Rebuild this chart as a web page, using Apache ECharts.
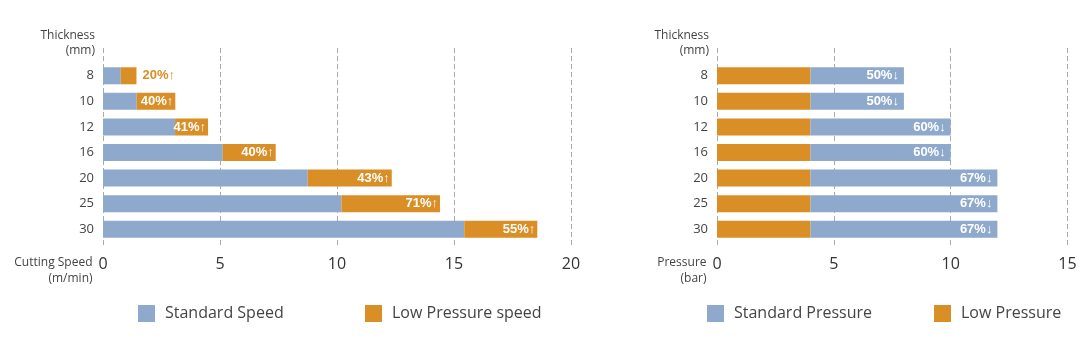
<!DOCTYPE html>
<html>
<head>
<meta charset="utf-8">
<title>Cutting speed and pressure</title>
<script src="https://cdn.jsdelivr.net/npm/echarts@6/dist/echarts.min.js"></script>
<style>
  html, body { margin: 0; padding: 0; background: #fff; }
  #chart { width: 1087px; height: 352px; }
</style>
</head>
<body>
<div id="chart"></div>
<script>
// 数据
const thickness = ['8', '10', '12', '16', '20', '25', '30']
const standardSpeed = [0.76, 1.44, 3.08, 5.12, 8.75, 10.19, 15.44]
const speedGain = [0.67, 1.65, 1.41, 2.26, 3.59, 4.21, 3.12]
const speedLabels = ['20%↑', '40%↑', '41%↑', '40%↑', '43%↑', '71%↑', '55%↑']
const lowPressure = [4, 4, 4, 4, 4, 4, 4]
const pressureGap = [4, 4, 6, 6, 8, 8, 8]
const pressureLabels = ['50%↓', '50%↓', '60%↓', '60%↓', '67%↓', '67%↓', '67%↓']
const speedTicks = { min: 0, max: 20, interval: 5 }
const pressureTicks = { min: 0, max: 15, interval: 5 }

const BLUE = '#8fa9cc'
const ORANGE = '#d98e26'
const FONT = '"Open Sans", "DejaVu Sans", sans-serif'
const LABEL_FONT = '"Liberation Sans", Arial, sans-serif'
const TEXT = '#444'

const chart = echarts.init(document.getElementById('chart'))

// 柱状图的网格 + 虚线网格
function grids (left, width) {
  return [
    { left: left, top: 63, width: width, height: 179 },
    { left: left, top: 48, width: width, height: 200 }
  ]
}

function barXAxis (gridIndex, ticks) {
  return {
    type: 'value', gridIndex: gridIndex, min: ticks.min, max: ticks.max, interval: ticks.interval,
    show: false
  }
}

function lineXAxis (gridIndex, ticks, name) {
  return {
    type: 'value', gridIndex: gridIndex, min: ticks.min, max: ticks.max, interval: ticks.interval,
    name: name,
    nameLocation: 'start',
    nameGap: 10,
    nameTextStyle: {
      fontFamily: FONT, fontSize: 12, color: TEXT, align: 'right', verticalAlign: 'top',
      lineHeight: 16, padding: [7, 0, 0, 0]
    },
    axisLine: { show: false },
    axisTick: { show: false },
    axisLabel: { fontFamily: FONT, fontSize: 16, color: '#333', fontWeight: 500, margin: 8 },
    splitLine: { show: true, lineStyle: { type: [5, 3], color: '#aaa', width: 1 } }
  }
}

function catYAxis (gridIndex) {
  return {
    type: 'category', gridIndex: gridIndex, data: thickness, inverse: true,
    axisLine: { show: false },
    axisTick: { show: false },
    axisLabel: { fontFamily: FONT, fontSize: 13, color: TEXT, margin: 9 }
  }
}

function nameYAxis (gridIndex) {
  return {
    type: 'value', gridIndex: gridIndex, min: 0, max: 1,
    name: 'Thickness\n(mm)',
    nameLocation: 'end',
    nameGap: 5,
    nameTextStyle: {
      fontFamily: FONT, fontSize: 12, color: TEXT, align: 'right', verticalAlign: 'middle',
      lineHeight: 15, padding: [0, 8, 0, 0]
    },
    axisLine: { show: false },
    axisTick: { show: false },
    axisLabel: { show: false },
    splitLine: { show: false }
  }
}

function legend (left, name) {
  return {
    left: left, top: 305, padding: 0,
    data: [name],
    icon: 'rect', itemWidth: 17, itemHeight: 17,
    selectedMode: false,
    textStyle: { fontFamily: FONT, fontSize: 16, color: TEXT, padding: [0, 0, 0, 5] }
  }
}

const barLabel = {
  show: true, position: 'insideRight', color: '#fff',
  fontFamily: LABEL_FONT, fontSize: 13, fontWeight: 'bold'
}

// 8mm 的标签放在柱子外面
const gainData = speedGain.map(function (v, i) {
  if (i === 0) {
    return { value: v, label: { position: 'right', distance: 6, color: ORANGE } }
  }
  return v
})

chart.setOption({
  animation: false,
  grid: grids(103, 468).concat(grids(717, 350.5)),
  xAxis: [
    barXAxis(0, speedTicks),
    lineXAxis(1, speedTicks, 'Cutting Speed\n(m/min)'),
    barXAxis(2, pressureTicks),
    lineXAxis(3, pressureTicks, 'Pressure\n(bar)')
  ],
  yAxis: [catYAxis(0), nameYAxis(1), catYAxis(2), nameYAxis(3)],
  legend: [
    legend(138, 'Standard Speed'),
    legend(365, 'Low Pressure speed'),
    legend(707, 'Standard Pressure'),
    legend(934, 'Low Pressure')
  ],
  series: [
    {
      name: 'Standard Speed', type: 'bar', stack: 'speed', xAxisIndex: 0, yAxisIndex: 0,
      barWidth: 17, itemStyle: { color: BLUE }, data: standardSpeed
    },
    {
      name: 'Low Pressure speed', type: 'bar', stack: 'speed', xAxisIndex: 0, yAxisIndex: 0,
      barWidth: 17, itemStyle: { color: ORANGE },
      label: Object.assign({}, barLabel, {
        distance: 2,
        formatter: function (p) { return speedLabels[p.dataIndex] }
      }),
      data: gainData
    },
    {
      name: 'Low Pressure', type: 'bar', stack: 'pressure', xAxisIndex: 2, yAxisIndex: 2,
      barWidth: 17, itemStyle: { color: ORANGE }, data: lowPressure
    },
    {
      name: 'Standard Pressure', type: 'bar', stack: 'pressure', xAxisIndex: 2, yAxisIndex: 2,
      barWidth: 17, itemStyle: { color: BLUE },
      label: Object.assign({}, barLabel, {
        distance: 5,
        formatter: function (p) { return pressureLabels[p.dataIndex] }
      }),
      data: pressureGap
    }
  ]
})
</script>
</body>
</html>
